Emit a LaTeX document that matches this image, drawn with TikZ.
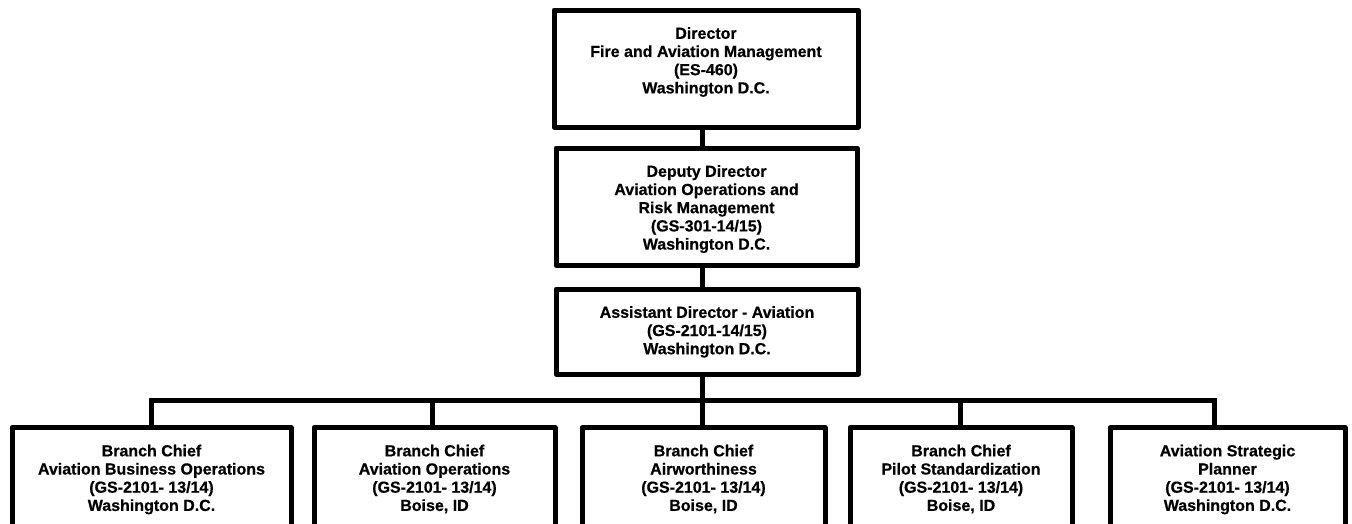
\documentclass[tikz,border=0pt]{standalone}
\usepackage{fontspec}
\setmainfont{Liberation Sans}[BoldFeatures={FakeBold=0.6}]
\usetikzlibrary{positioning}
\tikzset{
	box/.style={draw, line width=5pt, line join=round, inner sep=0pt},
	lbl/.style={align=center, inner sep=0pt, font=\bfseries\fontsize{16}{18.2}\selectfont},
	link/.style={line width=5pt, line join=miter}
}

\begin{document}
\begin{tikzpicture}[x=1pt, y=-1pt]
		% Frame
		\useasboundingbox (0,0) rectangle (1352,523);
		\clip (0,0) rectangle (1352,523);
		
		% Boxes
		\node[box, minimum width=304pt, minimum height=117pt] (dir) at (706,68.5) {};
		\node[box, minimum width=301pt, minimum height=117pt] (dep) at (706.5,206.5) {};
		\node[box, minimum width=302pt, minimum height=85pt] (ast) at (707,331.5) {};
		\node[box, minimum width=279pt, minimum height=130pt, anchor=north] (bca) at (151.5,425) {};
		\node[box, minimum width=241pt, minimum height=130pt, anchor=north] (bcb) at (434.5,425) {};
		\node[box, minimum width=243pt, minimum height=130pt, anchor=north] (bcc) at (703.5,425) {};
		\node[box, minimum width=222pt, minimum height=130pt, anchor=north] (bcd) at (961,425) {};
		\node[box, minimum width=235pt, minimum height=130pt, anchor=north] (asp) at (1227.5,425) {};
		
		% Lines
		\coordinate (bar) at (0,400);
		\coordinate (aspTop) at ([xshift=-13.5pt]asp.north);
		\draw[link] ([xshift=-4pt]dir.south) -- ([xshift=-4.5pt]dep.north);
		\draw[link] ([xshift=-4.5pt]dep.south) -- ([xshift=-5pt]ast.north);
		\draw[link] ([xshift=-5pt]ast.south) -- ([xshift=-5pt]ast.south |- bar);
		\draw[link] (bca.north) -- (bca.north |- bar) -- (aspTop |- bar) -- (aspTop);
		\draw[link] ([xshift=-2.5pt]bcb.north) -- ([xshift=-2.5pt]bcb.north |- bar);
		\draw[link] ([xshift=-1.5pt]bcc.north) -- ([xshift=-1.5pt]bcc.north |- bar);
		\draw[link] ([xshift=-1pt]bcd.north) -- ([xshift=-1pt]bcd.north |- bar);
		
		% Nodes
		\node[lbl, below=19.5pt of dir.north] (dirText) {Director\\Fire and Aviation Management\\(ES-460)\\Washington D.C.};
		\node[lbl, below=19.5pt of dep.north] (depText) {Deputy Director\\Aviation Operations and\\Risk Management\\(GS-301-14/15)\\Washington D.C.};
		\node[lbl, below=19.5pt of ast.north] (astText) {Assistant Director - Aviation\\(GS-2101-14/15)\\Washington D.C.};
		\node[lbl, below=19.5pt of bca.north] (bcaText) {Branch Chief\\Aviation Business Operations\\(GS-2101- 13/14)\\Washington D.C.};
		\node[lbl, below=19.5pt of bcb.north] (bcbText) {Branch Chief\\Aviation Operations\\(GS-2101- 13/14)\\Boise, ID};
		\node[lbl, below=19.5pt of bcc.north] (bccText) {Branch Chief\\Airworthiness\\(GS-2101- 13/14)\\Boise, ID};
		\node[lbl, below=19.5pt of bcd.north] (bcdText) {Branch Chief\\Pilot Standardization\\(GS-2101- 13/14)\\Boise, ID};
		\node[lbl, below=19.5pt of asp.north] (aspText) {Aviation Strategic\\Planner\\(GS-2101- 13/14)\\Washington D.C.};
	\end{tikzpicture}
\end{document}
